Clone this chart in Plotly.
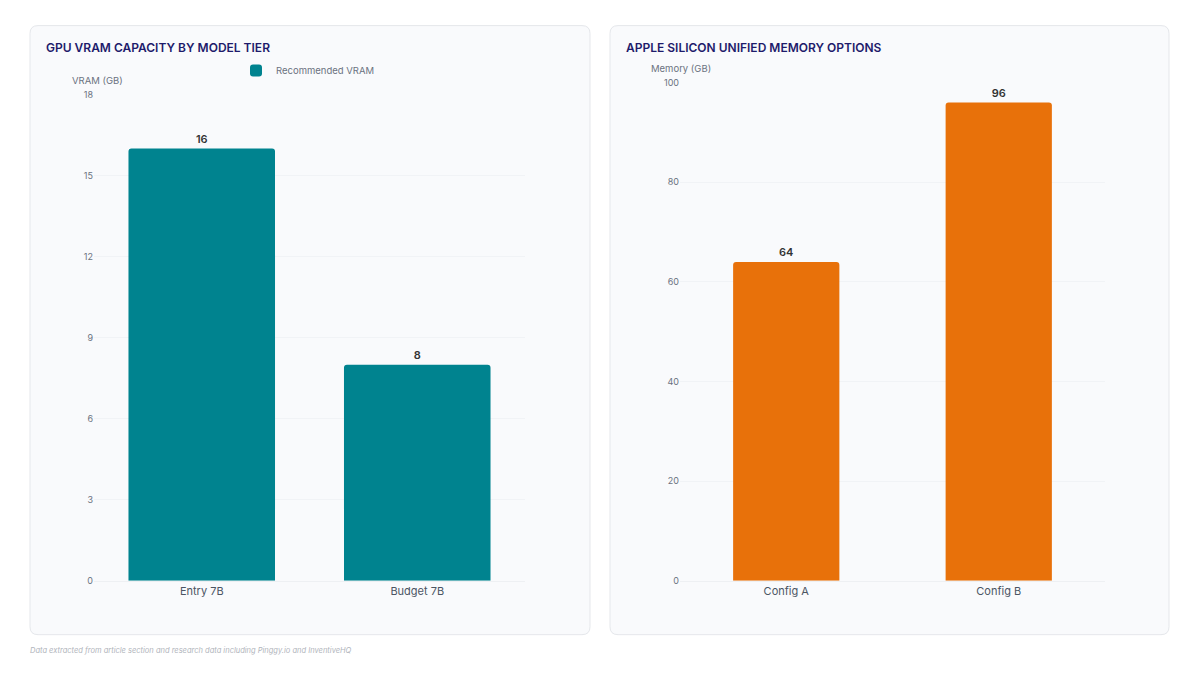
import plotly.graph_objects as go

W, H = 1200, 675

gpu_tiers = ["Entry 7B", "Budget 7B"]
gpu_vram = [16, 8]
gpu_ticks = [0, 3, 6, 9, 12, 15, 18]

apple_configs = ["Config A", "Config B"]
apple_mem = [64, 96]
apple_ticks = [0, 20, 40, 60, 80, 100]

TEAL = "#00838f"
ORANGE = "#e8710a"
TITLE_C = "#1e1b6b"
FONT = "Inter"

# screen-pixel -> paper fraction (compensating for page offset observed)
def px(x):
    return (x - 8) / W

def py(y):
    return 1 - ((y - 13.4) / 0.9836) / H

fig = go.Figure()

fig.add_trace(go.Bar(
    x=gpu_tiers, y=gpu_vram, name="Recommended VRAM",
    marker=dict(color=TEAL, cornerradius=3, line=dict(width=0)),
    text=gpu_vram, textposition="outside",
    textfont=dict(family=FONT, size=11, color="#333333", weight=600),
    xaxis="x", yaxis="y", showlegend=True, cliponaxis=False,
))
fig.add_trace(go.Bar(
    x=apple_configs, y=apple_mem, name="Memory",
    marker=dict(color=ORANGE, cornerradius=3, line=dict(width=0)),
    text=apple_mem, textposition="outside",
    textfont=dict(family=FONT, size=11, color="#333333", weight=600),
    xaxis="x2", yaxis="y2", showlegend=False, cliponaxis=False,
    width=0.5,
))

def card(x0, y0, x1, y1, r=8):
    X0, X1 = px(x0), px(x1)
    Y0, Y1 = py(y1), py(y0)
    rx, ry = r / W, r / H
    path = (f"M {X0+rx},{Y0} L {X1-rx},{Y0} Q {X1},{Y0} {X1},{Y0+ry} "
            f"L {X1},{Y1-ry} Q {X1},{Y1} {X1-rx},{Y1} L {X0+rx},{Y1} "
            f"Q {X0},{Y1} {X0},{Y1-ry} L {X0},{Y0+ry} Q {X0},{Y0} {X0+rx},{Y0} Z")
    return dict(type="path", xref="paper", yref="paper", path=path,
                fillcolor="#f9fafc", line=dict(color="#e5e7eb", width=1), layer="below")

axis_common = dict(showline=False, zeroline=False, ticks="",
                   tickfont=dict(family=FONT, size=9, color="#6b7280"))

fig.update_layout(
    width=W, height=H,
    margin=dict(l=0, r=0, t=0, b=0),
    paper_bgcolor="white", plot_bgcolor="rgba(0,0,0,0)",
    font=dict(family=FONT),
    bargap=0.32,
    shapes=[card(30, 25, 590, 634), card(610, 25, 1169, 634)],
    xaxis=dict(domain=[px(94), px(525)], anchor="y", showgrid=False,
               tickfont=dict(family=FONT, size=11, color="#4b5563"), ticks="",
               showline=True, linecolor="#eef0f3", linewidth=1),
    yaxis=dict(domain=[py(580), py(94)], anchor="x", range=[0, 18],
               tickvals=gpu_ticks, showgrid=True, gridcolor="#f1f3f6",
               **axis_common),
    xaxis2=dict(domain=[px(680), px(1105)], anchor="y2", showgrid=False,
                tickfont=dict(family=FONT, size=11, color="#4b5563"), ticks="",
                showline=True, linecolor="#eef0f3", linewidth=1),
    yaxis2=dict(domain=[py(580), py(82)], anchor="x2", range=[0, 100],
                tickvals=apple_ticks, showgrid=True, gridcolor="#f1f3f6",
                **axis_common),
    legend=dict(x=px(236), y=py(70), xanchor="left", yanchor="middle",
                orientation="h", bgcolor="rgba(0,0,0,0)",
                font=dict(family=FONT, size=9.5, color="#6b7280")),
    annotations=[
        dict(text="GPU VRAM CAPACITY BY MODEL TIER", x=px(44), y=py(47),
             xref="paper", yref="paper", xanchor="left", yanchor="middle",
             showarrow=False, font=dict(family=FONT, size=12, color=TITLE_C, weight=600)),
        dict(text="APPLE SILICON UNIFIED MEMORY OPTIONS", x=px(624), y=py(47),
             xref="paper", yref="paper", xanchor="left", yanchor="middle",
             showarrow=False, font=dict(family=FONT, size=12, color=TITLE_C, weight=600)),
        dict(text="VRAM (GB)", x=px(70), y=py(80), xref="paper", yref="paper",
             xanchor="left", yanchor="middle", showarrow=False,
             font=dict(family=FONT, size=9.5, color="#6b7280")),
        dict(text="Memory (GB)", x=px(649), y=py(68), xref="paper", yref="paper",
             xanchor="left", yanchor="middle", showarrow=False,
             font=dict(family=FONT, size=9.5, color="#6b7280")),
        dict(text="<i>Data extracted from article section and research data including Pinggy.io and InventiveHQ</i>",
             x=px(28), y=py(650), xref="paper", yref="paper",
             xanchor="left", yanchor="middle", showarrow=False,
             font=dict(family=FONT, size=7.5, color="#b0b4bb")),
    ],
)

fig.write_html("out.html")
